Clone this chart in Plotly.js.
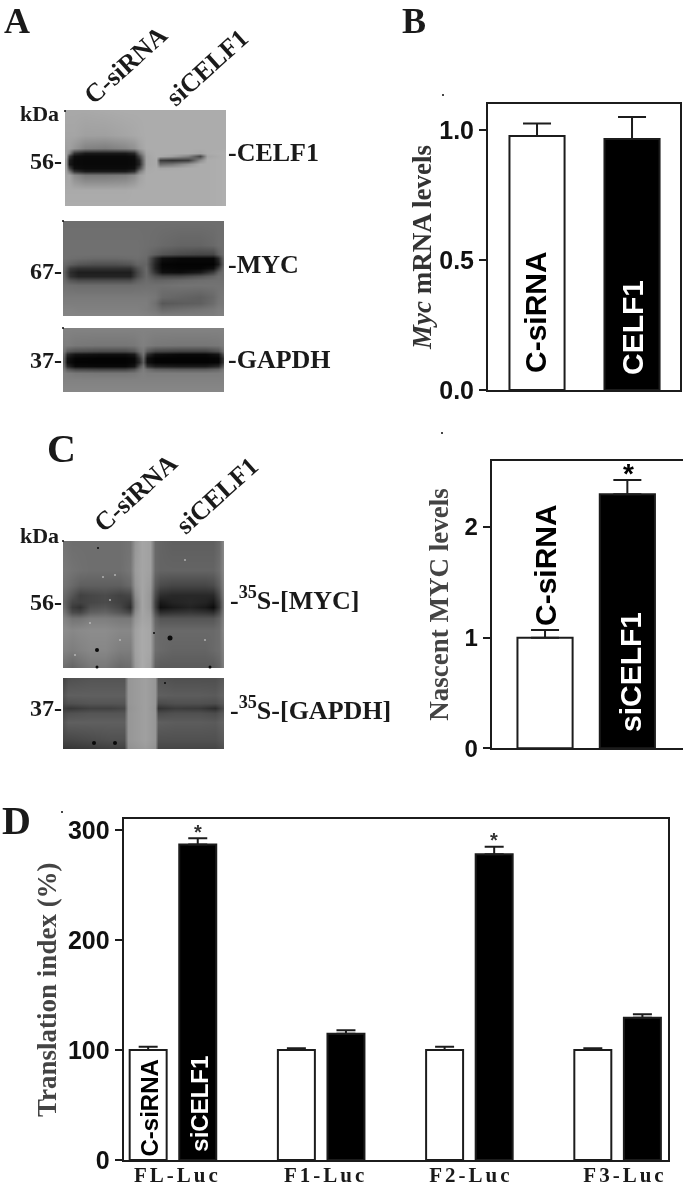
<!DOCTYPE html>
<html><head><meta charset="utf-8">
<script src="https://cdn.plot.ly/plotly-3.0.1.min.js"></script>
<style>html,body{margin:0;padding:0;background:#fff}#g{width:683px;height:1187px;filter:blur(0.45px)}
.x3tick text{letter-spacing:3px}</style>
</head><body><div id="g"></div>
<script>
// ---- bar data
const groupsB=['C-siRNA','CELF1'];
const valuesB=[0.977,0.965];
const errorsB=[0.048,0.085];
const groupsC=['C-siRNA','siCELF1'];
const valuesC=[1.0,2.297];
const errorsC=[0.07,0.129];
const constructsD=['FL-Luc','F1-Luc','F2-Luc','F3-Luc'];
const controlD=[100,100,100,100];
const controlErrD=[3,1.5,3,1.5];
const siCelfD=[286.7,114.8,277.9,129.4];
const siCelfErrD=[5.7,3.2,6.9,3];
// ---- blot densitometry (grey level 0-255)
const celf1X=[65,69,74,85,105,125,134,139,146,156,160,172,188,200,207,226];
const celf1Y=[110,135,148,153,156,160,164,168,171,175,190,206];
const celf1Z=[
[168,168,168,168,170,172,172,172,172,172,172,172,172,172,172,172],
[165,165,165,160,160,165,168,170,172,172,172,172,172,172,172,172],
[160,160,150,130,125,135,145,160,172,172,172,172,172,172,172,172],
[160,130,50,25,25,25,40,110,168,172,172,172,172,165,172,175],
[160,60,15,10,10,10,15,70,165,172,170,160,130,70,165,175],
[150,30,10,8,8,8,10,40,165,170,60,50,60,140,172,175],
[150,25,10,8,8,8,10,35,165,170,110,120,150,172,172,175],
[155,70,15,10,10,10,15,70,168,172,165,168,172,172,172,175],
[160,120,50,25,25,25,45,120,170,172,172,172,172,172,172,175],
[165,165,140,120,120,125,140,160,172,172,172,172,172,172,172,175],
[170,170,170,170,170,170,172,172,172,172,172,172,172,172,172,175],
[172,172,172,172,172,172,172,172,172,172,172,172,172,172,172,175]];
const mycX=[63,70,78,95,115,130,137,146,155,162,180,200,213,218,224];
const mycY=[221,245,254,258,264,268,272,276,280,285,297,303,309,316];
const mycZ=[
[110,110,110,110,110,110,110,110,110,110,110,110,110,110,110],
[112,112,112,112,112,112,112,110,108,105,100,100,105,110,110],
[112,112,112,112,112,112,112,108,95,85,75,70,70,95,110],
[112,110,108,105,105,108,110,105,45,15,8,8,8,40,100],
[105,95,85,80,80,85,100,100,35,5,3,3,3,25,95],
[100,60,50,50,50,50,80,105,35,8,5,5,15,60,105],
[95,45,30,30,30,30,70,105,50,15,12,25,60,95,110],
[100,50,35,35,35,35,75,105,80,70,70,85,100,110,110],
[105,85,75,75,75,75,95,108,100,100,105,110,112,112,112],
[112,110,108,108,108,108,110,112,112,112,115,115,115,115,115],
[122,122,122,122,122,122,122,122,118,105,100,95,105,115,120],
[125,125,125,125,125,125,125,125,112,88,92,95,108,118,120],
[130,130,128,128,128,128,128,125,118,105,110,115,120,125,125],
[132,132,132,132,132,132,132,130,128,125,125,125,125,128,128]];
const gapdhX=[63,67,75,100,125,134,139,143,147,155,180,205,218,224];
const gapdhY=[328,345,351,354,358,362,366,369,373,380,392];
const gapdhZ=[
[130,130,130,130,130,130,130,130,130,130,130,130,130,130],
[125,125,120,118,118,120,125,128,125,120,118,118,120,125],
[115,90,80,75,75,85,110,120,90,70,65,65,80,110],
[100,40,20,15,15,25,80,115,45,15,8,8,20,80],
[90,20,5,3,3,8,50,100,15,3,3,3,5,50],
[90,15,3,3,3,8,40,90,15,3,3,3,5,50],
[100,40,10,8,8,20,80,115,50,30,25,25,40,90],
[115,90,70,65,65,80,110,125,110,95,90,90,100,120],
[128,125,120,118,118,120,125,128,125,125,125,125,125,128],
[130,130,130,130,130,130,130,130,130,130,130,130,130,130],
[135,135,135,135,135,135,135,135,135,135,135,135,135,135]];
const nascentMycX=[63,72,80,90,105,120,130,135,142,150,155,160,172,190,205,213,219,224];
const nascentMycY=[541,570,585,595,602,607,612,618,630,650,668];
const nascentMycZ=[
[115,110,110,110,110,110,115,150,165,160,105,100,95,95,95,95,105,135],
[120,115,112,110,110,110,118,155,165,160,105,100,100,100,100,100,110,135],
[115,105,95,95,95,95,105,150,165,155,90,75,70,70,70,75,95,130],
[105,85,65,70,75,65,70,140,165,150,75,45,40,40,40,40,75,125],
[100,70,65,70,75,65,55,130,165,150,65,25,35,40,35,25,60,120],
[105,60,50,80,85,70,45,130,165,150,65,15,25,35,25,12,55,120],
[115,75,70,95,100,85,70,140,165,155,80,45,50,55,50,45,75,125],
[130,115,115,125,125,120,120,150,165,160,100,85,85,85,85,85,100,130],
[140,135,138,140,140,135,135,160,170,165,110,105,105,105,105,105,110,135],
[130,125,130,135,135,125,125,160,170,165,110,105,100,100,100,105,110,130],
[110,100,110,120,120,105,110,155,170,160,95,90,90,90,90,90,100,125]];
const nascentGapdhX=[63,68,90,110,124,128,145,155,158,175,200,215,224];
const nascentGapdhY=[678,695,703,708,713,722,740,749];
const nascentGapdhZ=[
[70,80,85,85,85,150,160,150,85,80,80,80,90],
[85,95,95,95,95,150,160,150,95,92,92,90,100],
[75,80,85,85,85,150,160,150,75,80,80,78,90],
[60,55,65,65,70,148,160,148,50,60,58,45,75],
[75,80,85,85,85,150,160,150,75,80,80,75,90],
[85,95,95,95,95,150,160,150,95,92,92,90,100],
[70,70,75,80,80,150,160,150,80,80,80,80,90],
[55,55,60,65,65,145,155,145,70,70,70,70,80]];
const spotsX=[170,97,97,210,94,115,65,63,63,63,443,442,62,98,154,165];
const spotsY=[638,650,667,667,743,743,111,221,328,541,95,433,812,548,633,683];
const spotSizes=[5,4,3,3,4,4,2,2,2,2,2,2,2,2,2,2];
const specksX=[103,115,90,120,185,205,75,110];
const specksY=[577,575,623,640,560,640,655,600];

const W=683,H=1187;
const INK='#1c1c1c';
const SERIF='"Liberation Serif","Times New Roman",serif';
const SANS='"Liberation Sans",Arial,sans-serif';

function pad(c){const n=c.length;return [c[0]+.25,c[0]+.75].concat(c.slice(1,-1),[c[n-1]-.75,c[n-1]-.25]);}
function padZ(z){const rows=z.map(r=>[r[0]].concat(r,[r[r.length-1]]));return [rows[0]].concat(rows,[rows[rows.length-1]]);}
function blot(x,y,z){return {type:'heatmap',x:pad(x),y:pad(y),z:padZ(z),xaxis:'x4',yaxis:'y4',zmin:0,zmax:255,zsmooth:'best',
  colorscale:[[0,'#000'],[1,'#fff']],showscale:false,hoverinfo:'skip'};}
function bar(x,y,err,color,xa,ya,cap){return {type:'bar',x:x,y:y,xaxis:xa,yaxis:ya,
  marker:{color:color,line:{color:INK,width:2}},
  error_y:{type:'data',symmetric:false,array:err,arrayminus:err.map(()=>0),color:INK,thickness:2,width:cap},hoverinfo:'skip'};}

const traces=[
 blot(celf1X,celf1Y,celf1Z),blot(mycX,mycY,mycZ),blot(gapdhX,gapdhY,gapdhZ),
 blot(nascentMycX,nascentMycY,nascentMycZ),blot(nascentGapdhX,nascentGapdhY,nascentGapdhZ),
 {type:'scatter',mode:'markers',x:specksX,y:specksY,xaxis:'x4',yaxis:'y4',marker:{size:2,color:'#c4c4c4',opacity:0.8,line:{width:0}},hoverinfo:'skip'},
 {type:'scatter',mode:'markers',x:spotsX,y:spotsY,xaxis:'x4',yaxis:'y4',marker:{size:spotSizes,color:'#0a0a0a',opacity:1,line:{width:0}},hoverinfo:'skip'},
 Object.assign(bar([0,1],valuesB,errorsB,['#fff','#000'],'x','y',14),{width:0.58}),
 Object.assign(bar([0,1],valuesC,errorsC,['#fff','#000'],'x2','y2',14),{width:0.67}),
 bar([0,1,2,3],controlD,controlErrD,'#fff','x3','y3',9.5),
 bar([0,1,2,3],siCelfD,siCelfErrD,'#000','x3','y3',9.5)
];

function serif(sz,col){return {family:SERIF,size:sz,color:col||'#1a1a1a',weight:700};}
function sans(sz,col){return {family:SANS,size:sz,color:col||'#000',weight:700};}
function lab(x,y,text,o){return Object.assign({x:x,y:y,text:text,xref:'x4',yref:'y4',showarrow:false,xanchor:'center',yanchor:'middle',
  font:serif(26)},o||{});}
const annotations=[
 lab(17,21,'A',{font:serif(36)}),lab(414,21,'B',{font:serif(36)}),lab(61,448,'C',{font:serif(40)}),lab(16,820,'D',{font:serif(40)}),
 lab(125,65,'C-siRNA',{textangle:-42,font:serif(26)}),lab(207,67,'siCELF1',{textangle:-42,font:serif(26)}),
 lab(135,493,'C-siRNA',{textangle:-42,font:serif(26)}),lab(217,495,'siCELF1',{textangle:-42,font:serif(26)}),
 lab(61,113,'kDa',{xanchor:'right',font:serif(22)}),lab(61,535,'kDa',{xanchor:'right',font:serif(22)}),
 lab(64,161,'56-',{xanchor:'right',font:serif(24)}),lab(64,271,'67-',{xanchor:'right',font:serif(24)}),lab(64,360,'37-',{xanchor:'right',font:serif(24)}),
 lab(64,602,'56-',{xanchor:'right',font:serif(24)}),lab(64,708,'37-',{xanchor:'right',font:serif(24)}),
 lab(226,152,'-CELF1',{xanchor:'left'}),lab(226,264,'-MYC',{xanchor:'left'}),lab(226,359,'-GAPDH',{xanchor:'left'}),
 lab(228,598,'-<sup>35</sup>S-[MYC]',{xanchor:'left'}),lab(228,708,'-<sup>35</sup>S-[GAPDH]',{xanchor:'left'}),
 lab(535,312,'C-siRNA',{textangle:-90,font:sans(30)}),lab(632,328,'CELF1',{textangle:-90,font:sans(30,'#fff')}),
 lab(545,565,'C-siRNA',{textangle:-90,font:sans(30)}),lab(630,672,'siCELF1',{textangle:-90,font:sans(30,'#fff')}),
 lab(628,473,'*',{font:sans(28)}),
 lab(148.5,1108,'C-siRNA',{textangle:-90,font:sans(24)}),lab(198.7,1104,'siCELF1',{textangle:-90,font:sans(24,'#fff')}),
 lab(198,832,'*',{font:sans(20,'#333')}),lab(494,840,'*',{font:sans(20,'#333')})
];

function dom(a,b,size){return [a/size,b/size];}
function xax(a,b,range,anchor,extra){return Object.assign({domain:dom(a,b,W),range:range,anchor:anchor,showline:true,mirror:true,linecolor:INK,linewidth:2,
  showgrid:false,zeroline:false,ticks:'',showticklabels:false,fixedrange:true},extra||{});}
function yax(top,bot,range,anchor,tickvals,ticktext,title,tfont,standoff,tsize){return {domain:[1-bot/H,1-top/H],range:range,anchor:anchor,showline:true,mirror:true,linecolor:INK,linewidth:2,
  showgrid:false,zeroline:false,ticks:'outside',ticklen:7,tickwidth:2,tickcolor:INK,tickvals:tickvals,ticktext:ticktext,
  tickfont:{family:SANS,size:tsize,color:'#111',weight:700},title:{text:title,font:tfont,standoff:standoff},fixedrange:true};}

const layout={width:W,height:H,margin:{l:0,r:0,t:0,b:0},paper_bgcolor:'#fff',plot_bgcolor:'rgba(0,0,0,0)',showlegend:false,
 barmode:'group',bargap:0.331,bargroupgap:0.254,annotations:annotations,
 xaxis:xax(488,680,[-0.516,1.505],'y'),
 yaxis:yax(104,390,[0,1.1],'x',[0,0.5,1],['0.0','0.5','1.0'],'<i>Myc</i> mRNA levels',serif(27,'#333'),0,25),
 xaxis2:xax(491.7,682.5,[-0.648,1.67],'y2'),
 yaxis2:yax(460.7,748.3,[0,2.6],'x2',[0,1,2],['0','1','2'],'Nascent MYC levels',serif(27,'#444'),8,24),
 xaxis3:xax(123.6,668,[-0.333,3.34],'y3',{showticklabels:true,tickmode:'array',tickvals:[0.03,1.03,2.01,3.05],ticktext:constructsD,tickfont:serif(21),ticklabelstandoff:-5}),
 yaxis3:yax(819.3,1160,[0,309.7],'x3',[0,100,200,300],['0','100','200','300'],'Translation index (%)',serif(27,'#444'),3,25),
 xaxis4:{domain:[0,1],range:[0,W],anchor:'y4',visible:false,fixedrange:true},
 yaxis4:{domain:[0,1],range:[H,0],anchor:'x4',visible:false,fixedrange:true}
};
Plotly.newPlot('g',traces,layout,{displayModeBar:false,staticPlot:true});
</script></body></html>
